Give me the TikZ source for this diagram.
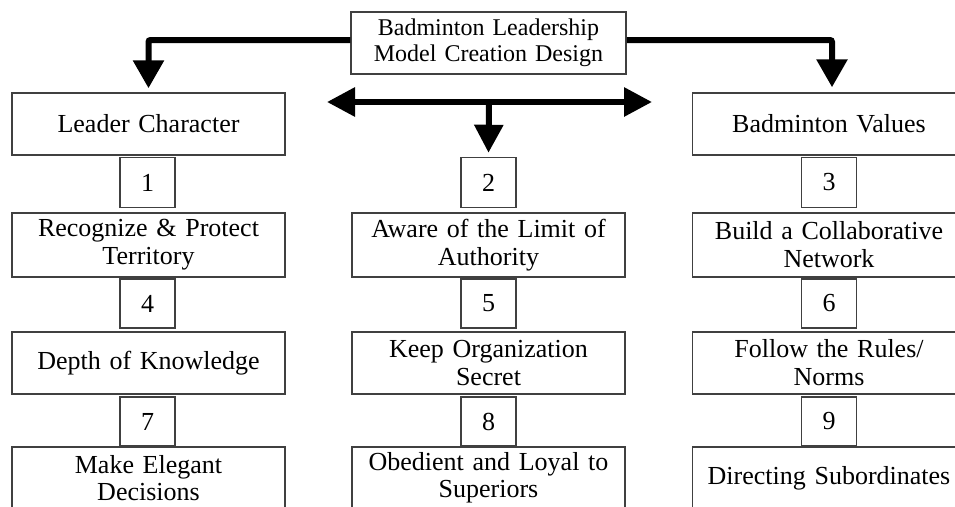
\documentclass[tikz,border=0pt]{standalone}
\usepackage{fontspec}
\setmainfont{Liberation Serif}
\usetikzlibrary{arrows.meta}
\begin{document}
\begin{tikzpicture}[x=1pt,y=-1pt,
  box/.style={draw=black!75, line width=1.5pt, minimum width=273pt, minimum height=62pt,
    inner sep=0pt, align=center, text width=265pt, font=\fontsize{26}{28}\selectfont},
  numbox/.style={draw=black!75, line width=1.5pt, minimum width=55pt, minimum height=50pt,
    inner sep=0pt, font=\fontsize{26}{28}\selectfont},
  bigarrow/.style={line width=6pt, -{Triangle[width=30pt,length=28pt]}, rounded corners=2pt},
  dblarrow/.style={line width=6pt, {Triangle[width=28pt,length=28pt]}-{Triangle[width=28pt,length=28pt]}}
]
\useasboundingbox (0,0) rectangle (955,506);
\begin{scope}
\clip (0,0) rectangle (955,506);
% top
\node[box, minimum width=275pt, font=\fontsize{24}{26}\selectfont] (top) at (488.5,43)
  {Badminton Leadership\\Model Creation Design};
% row A
\node[box] (lc) at (148.5,124) {Leader Character};
\node[box] (bv) at (829,124) {Badminton Values};
% numbers 1-3
\node[numbox] (n1) at (147.5,182.5) {1};
\node[numbox] (n2) at (488.5,182.5) {2};
\node[numbox] (n3) at (829,182.5) {3};
% row B
\node[box, minimum height=64pt] (b1) at (148.5,245) {Recognize \& Protect\\Territory};
\node[box, minimum height=64pt] (b2) at (488.5,245) {Aware of the Limit of\\Authority};
\node[box, minimum height=64pt] (b3) at (829,245) {Build a Collaborative\\Network};
% numbers 4-6
\node[numbox, minimum height=49pt] (n4) at (147.5,303.5) {4};
\node[numbox, minimum height=49pt] (n5) at (488.5,303.5) {5};
\node[numbox, minimum height=49pt] (n6) at (829,303.5) {6};
% row C
\node[box] (c1) at (148.5,363) {Depth of Knowledge};
\node[box] (c2) at (488.5,363) {Keep Organization\\Secret};
\node[box] (c3) at (829,363) {Follow the Rules/\\Norms};
% numbers 7-9
\node[numbox, minimum height=49pt] (n7) at (147.5,421.5) {7};
\node[numbox, minimum height=49pt] (n8) at (488.5,421.5) {8};
\node[numbox, minimum height=49pt] (n9) at (829,421.5) {9};
% row D
\node[box, font=\fontsize{26}{27}\selectfont] (d1) at (148.5,478) {Make Elegant\\Decisions};
\node[box, font=\fontsize{26}{27}\selectfont] (d2) at (488.5,478) {Obedient and Loyal to\\Superiors};
\node[box] (d3) at (829,478) {Directing Subordinates};
% arrows
\draw[bigarrow] ([yshift=3pt]top.west) -| ([yshift=4pt]lc.north);
\draw[bigarrow] ([yshift=3pt]top.east) -| ([xshift=3pt,yshift=5pt]bv.north);
\coordinate (ml) at (327,102);
\coordinate (mr) at (652,102);
\coordinate (mc) at (489,102);
\draw[dblarrow] (ml) -- (mr);
\draw[line width=6pt, -{Triangle[width=28pt,length=28pt]}] (mc) -- ([yshift=4pt]n2.north);
\end{scope}
\end{tikzpicture}
\end{document}
